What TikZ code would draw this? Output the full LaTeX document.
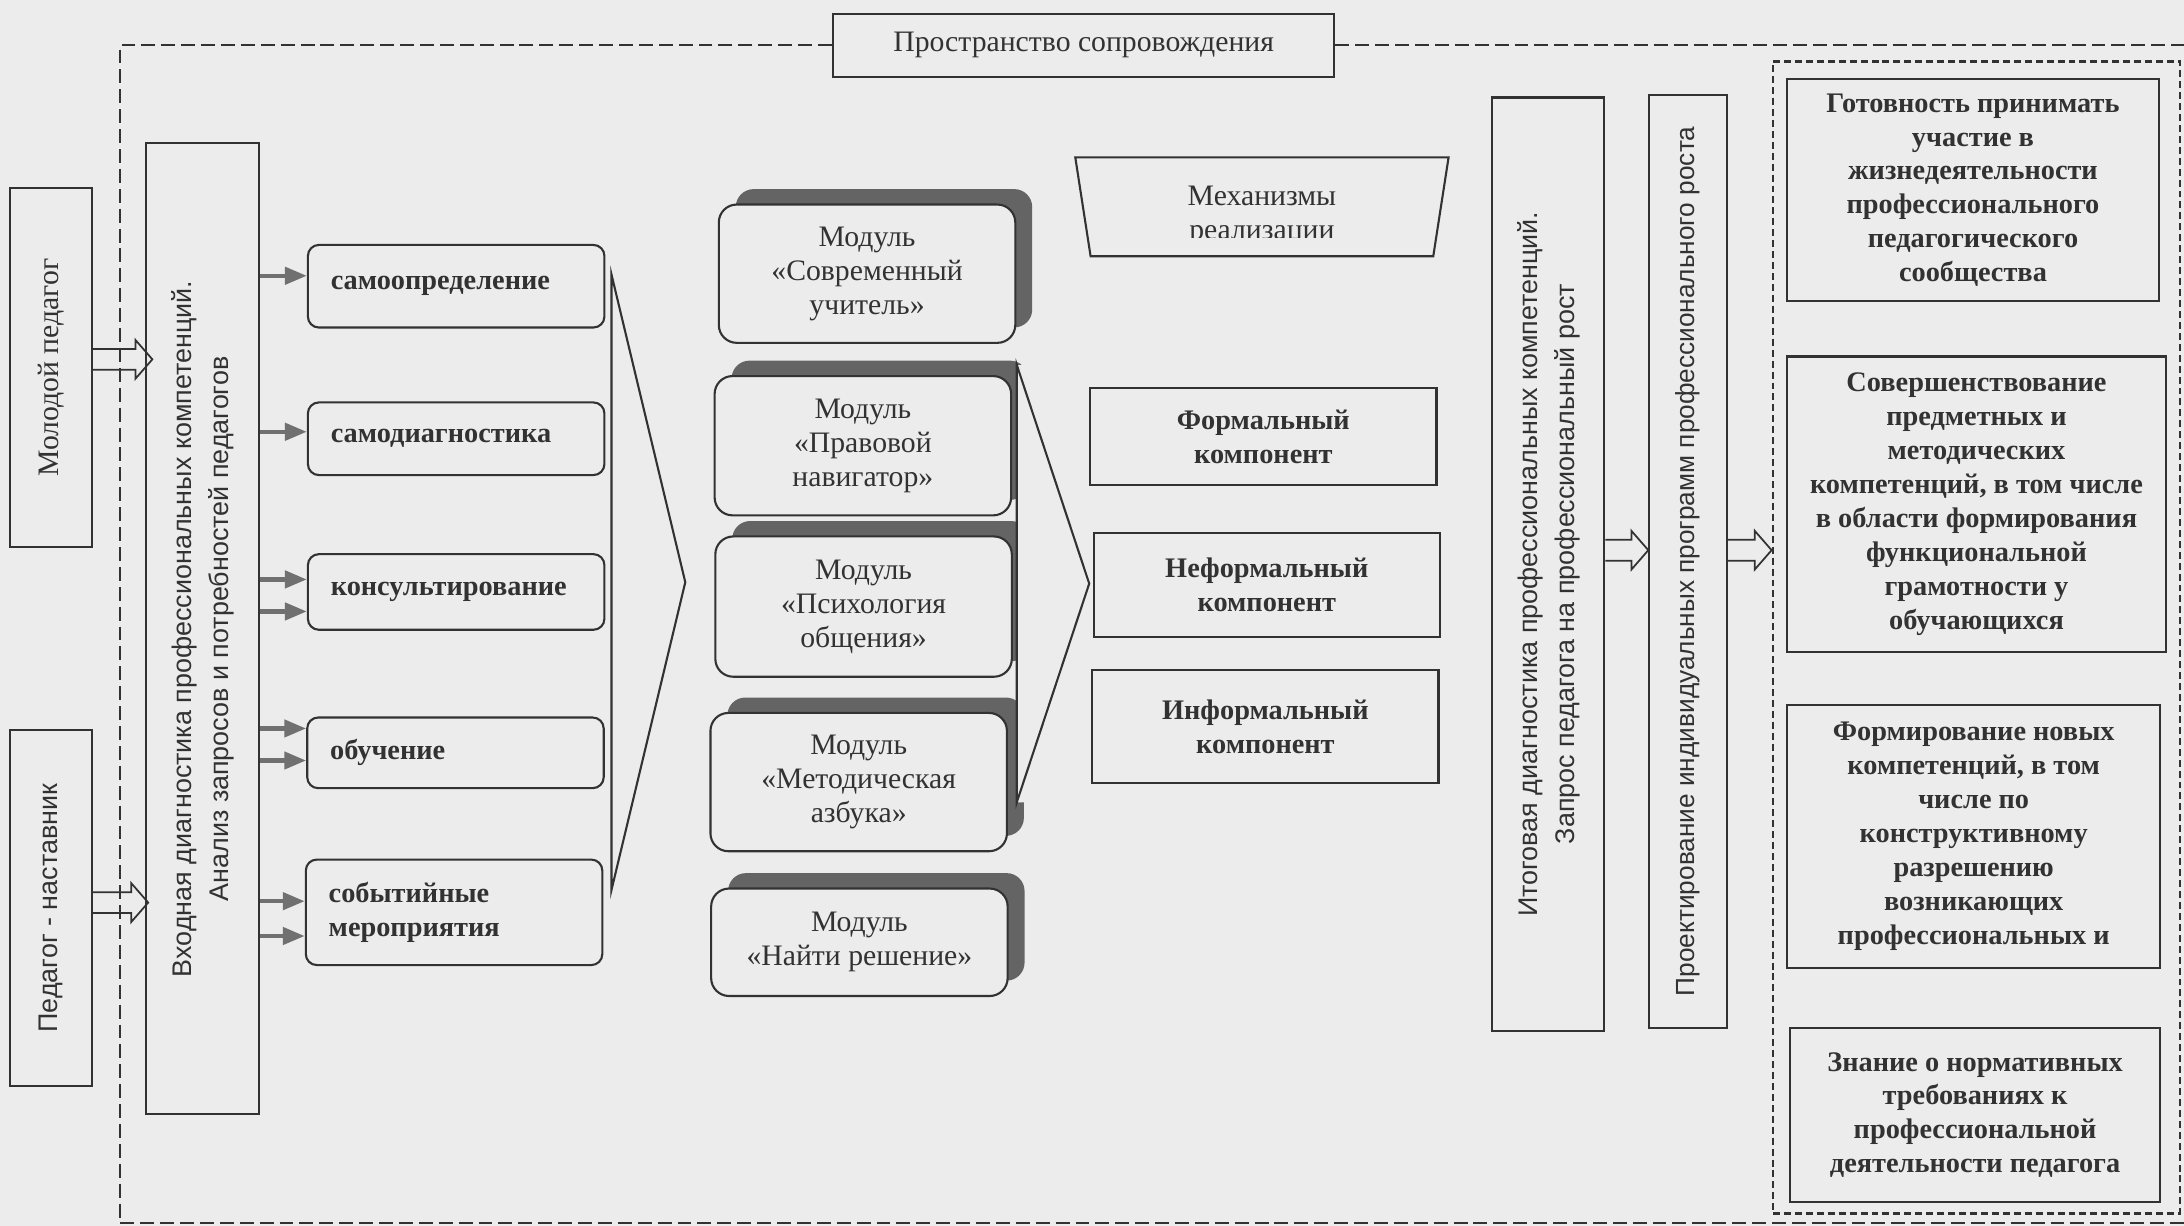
\documentclass[tikz,border=0pt]{standalone}
\usepackage{fontspec}
\setmainfont{Liberation Serif}
\setsansfont{Liberation Sans}
\usetikzlibrary{arrows.meta, positioning, calc, shapes.geometric, shadows}

\definecolor{bg}{RGB}{236,236,236}
\definecolor{ink}{RGB}{50,50,50}
\definecolor{shade}{RGB}{100,100,100}
\definecolor{feedgray}{RGB}{112,112,112}

\newcommand{\uptext}[1]{\rotatebox{90}{\begin{tabular}{@{}c@{}}#1\end{tabular}}}

\begin{document}
\begin{tikzpicture}[
  x=0.14mm, y=-0.14mm,
  every node/.style={font=\fontsize{8.5}{9.7}\selectfont, text=ink},
  box/.style={draw=ink, line width=0.6pt, fill=bg, inner sep=0pt},
  sidebox/.style={box, font=\sffamily\fontsize{7.7}{10.6}\selectfont},
  act/.style={box, rounded corners=1.1mm, inner xsep=2.3mm, text width=25.2mm, align=left, font=\bfseries\fontsize{8.1}{9.7}\selectfont},
  module/.style={box, rounded corners=1.8mm, minimum width=29.8mm, align=center,
    drop shadow={shadow xshift=1.7mm, shadow yshift=1.55mm, fill=shade, opacity=1}},
  comp/.style={box, minimum width=34.8mm, align=center, font=\bfseries\fontsize{8.1}{9.7}\selectfont},
  result/.style={box, align=center, font=\bfseries\fontsize{8.1}{9.7}\selectfont},
  frame/.style={draw=ink, line width=0.6pt, dash pattern=on 1.4mm off 0.6mm},
  inframe/.style={draw=ink, line width=0.8pt, dash pattern=on 0.7mm off 0.4mm, inner sep=0pt},
  feed/.style={draw=feedgray, line width=1.3pt, -{Triangle[length=2.2mm, width=1.7mm]}},
  hollow/.style={draw=ink, line width=0.5pt, line join=miter, to path={
    let \p1=(\tikztostart), \p2=(\tikztotarget) in
    (\x1,\y1+1.05mm) -- (\x2-1.7mm,\y1+1.05mm) -- (\x2-1.7mm,\y1+1.95mm) -- (\x2,\y1)
    -- (\x2-1.7mm,\y1-1.95mm) -- (\x2-1.7mm,\y1-1.05mm) -- (\x1,\y1-1.05mm)}},
  chevron/.style={draw=ink, line width=0.6pt, line join=miter}
]
  \useasboundingbox (0,0) rectangle (1568,880);
  \fill[bg] (0,0) rectangle (1568,880);

  \node[box, minimum width=50.4mm, minimum height=6.3mm] (title) at (778,32.5) {Пространство сопровождения};

  \node[box, minimum width=8.3mm, minimum height=36.1mm] (young) at (36.5,264) {\rotatebox{90}{Молодой педагог}};
  \node[sidebox, minimum width=8.3mm, minimum height=35.8mm] (mentor) at (36.5,652) {\rotatebox{90}{Педагог - наставник}};
  \node[sidebox, minimum width=11.3mm, minimum height=97.6mm] (entry) at (145.5,451.5)
    {\uptext{Входная диагностика профессиональных компетенций.\\Анализ запросов и потребностей педагогов}};

  \node[act, minimum height=8.3mm] (selfdef) at (327.5,205.5) {самоопределение};
  \node[act, minimum height=7.3mm] (selfdiag) at (327.5,315) {самодиагностика};
  \node[act, minimum height=7.6mm] (consult) at (327.5,425) {консультирование};
  \node[act, minimum height=7.1mm] (training) at (327,540.5) {обучение};
  \node[act, minimum height=10.6mm] (events) at (326,655) {событийные\\мероприятия};

  \draw[chevron] (439,197) -- (492,418) -- (439,639) -- cycle;

  \node[module, minimum height=13.9mm] (modern) at (622.5,196.5) {Модуль\\«Современный\\учитель»};
  \begin{scope}
    \clip (0,0) -- (1568,0) -- (1568,262) -- (730,262) -- (730,576) -- (1568,576) -- (1568,880) -- (0,880) -- cycle;
    \node[module, minimum height=14mm] (legal) at (619.5,320) {Модуль\\«Правовой\\навигатор»};
    \node[module, minimum height=14.1mm] (psych) at (620,435.5) {Модуль\\«Психология\\общения»};
    \node[module, minimum height=13.9mm] (method) at (616.5,561.5) {Модуль\\«Методическая\\азбука»};
  \end{scope}
  \node[module, minimum height=10.8mm] (solve) at (617,676.5) {Модуль\\«Найти решение»};

  \draw[chevron] (730,262) -- (782,419) -- (730,576) -- cycle;

  \draw[chevron] (772,113) -- (1040,113) -- (1029,184) -- (783,184) -- cycle;
  \begin{scope}
    \clip (760,100) rectangle (1050,170.5);
    \node[align=center] (mech) at (906,155) {Механизмы\\реализации};
  \end{scope}

  \node[comp, minimum height=9.7mm] (formal) at (907,313.5) {Формальный\\компонент};
  \node[comp, minimum height=10.4mm] (nonformal) at (909.5,420) {Неформальный\\компонент};
  \node[comp, minimum height=11.3mm] (informal) at (908.5,521.5) {Информальный\\компонент};

  \node[sidebox, minimum width=11.3mm, minimum height=93.8mm] (final) at (1111.5,405)
    {\uptext{Итоговая диагностика профессиональных компетенций.\\Запрос педагога на профессиональный рост}};
  \node[sidebox, minimum width=7.8mm, minimum height=93.8mm, font=\sffamily\fontsize{7.5}{10.6}\selectfont] (plan) at (1212,403)
    {\rotatebox{90}{Проектирование индивидуальных программ профессионального роста}};

  \node[inframe, minimum width=40.9mm, minimum height=115.8mm] (outcomes) at (1419,457.5) {};
  \node[result, minimum width=37.4mm, minimum height=22.3mm] (ready) at (1416.5,136.5)
    {Готовность принимать\\участие в\\жизнедеятельности\\профессионального\\педагогического\\сообщества};
  \node[result, minimum width=38.1mm, minimum height=29.7mm] (improve) at (1419,362)
    {Совершенствование\\предметных и\\методических\\компетенций, в том числе\\в области формирования\\функциональной\\грамотности у\\обучающихся};
  \node[result, minimum width=37.5mm, minimum height=26.5mm] (newcomp) at (1417,600.5)
    {Формирование новых\\компетенций, в том\\числе по\\конструктивному\\разрешению\\возникающих\\профессиональных и};
  \node[result, minimum width=37.2mm, minimum height=17.5mm] (norms) at (1418,800.5)
    {Знание о нормативных\\требованиях к\\профессиональной\\деятельности педагога};

  \coordinate (y1) at ($(young.east)+(0,-6)$);
  \coordinate (m1) at ($(mentor.east)+(0,-4)$);
  \coordinate (f1) at ($(final.east)+(0,-10)$);
  \draw[hollow] (y1) to ($(y1 -| entry.west)+(5,0)$);
  \draw[hollow] (m1) to ($(m1 -| entry.west)+(2,0)$);
  \draw[hollow] (f1) to (f1 -| plan.west);
  \draw[hollow] (f1 -| plan.east) to (f1 -| outcomes.west);

  \foreach \b/\dy in {selfdef/-7.5, selfdiag/-5, consult/-9, consult/14, training/-17.5, training/5.5, events/-8, events/17}{
    \coordinate (t) at ($(\b.west)+(0,\dy)$);
    \draw[feed] (entry.east |- t) -- (t);
  }

  \draw[frame] (title.west) -- (86,32.5) -- (86,878) -- (1568,878);
  \draw[frame] (title.east) -- (1568,32.5);
\end{tikzpicture}
\end{document}
